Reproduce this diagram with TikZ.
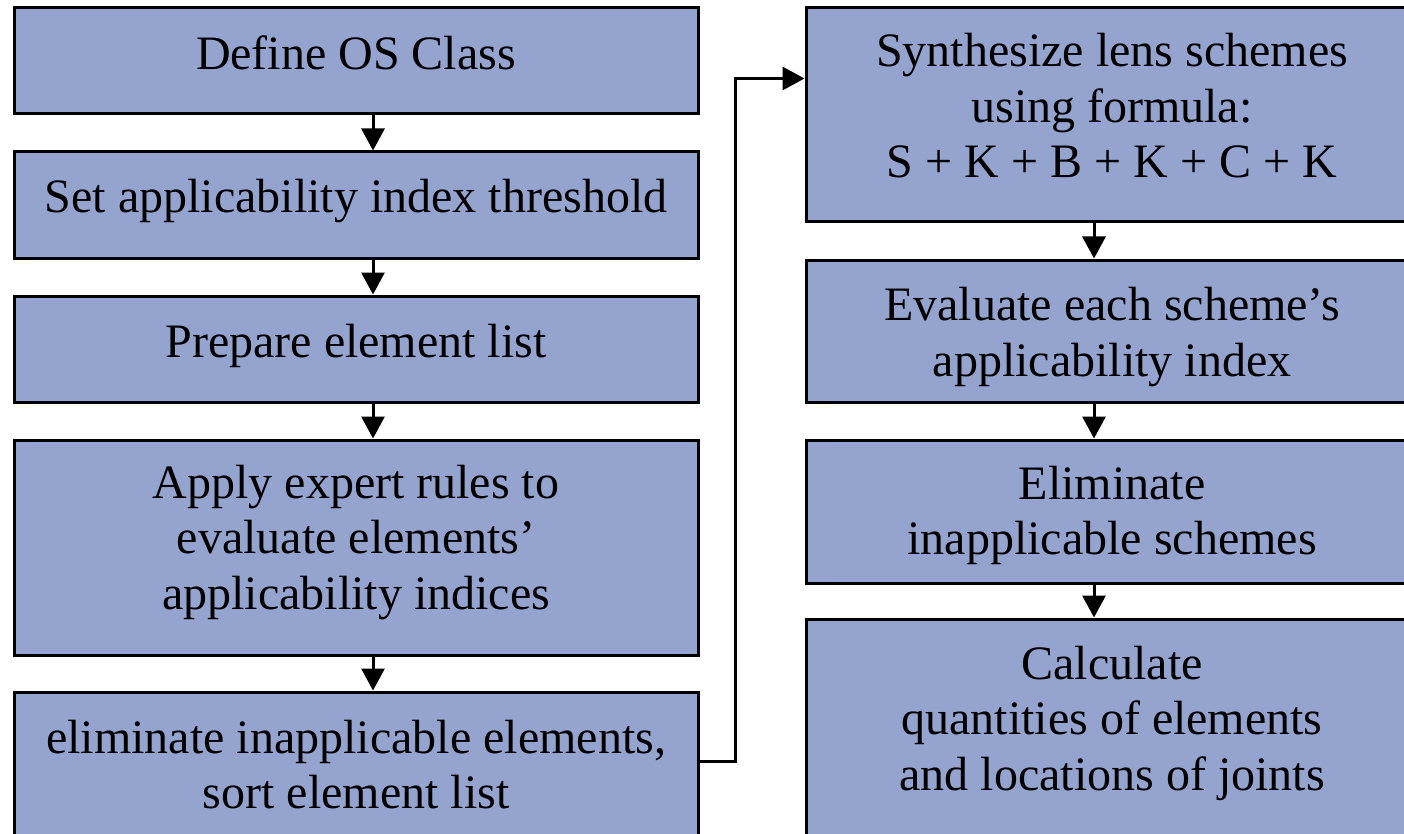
\documentclass[tikz,border=0pt]{standalone}
\usepackage{fontspec}
\setmainfont{Liberation Serif}
\usetikzlibrary{arrows.meta}
\definecolor{boxfill}{HTML}{95A3CF}
% centred block of lines; the optional extra depth nudges the block within its box
\newcommand{\blocklines}[2][0pt]{\begin{tabular}{@{}c@{}}#2\\[#1]\end{tabular}}
\begin{document}
\begin{tikzpicture}[x=1pt,y=-1pt,
  box/.style={draw=black, line width=3pt, fill=boxfill, inner sep=0pt,
    font=\fontsize{48}{55.5}\selectfont},
  lbox/.style={box, minimum width=684pt},
  rbox/.style={box, minimum width=612pt},
  arr/.style={line width=3pt, -{Triangle[width=23pt,length=22pt]}}]
\clip (0,0) rectangle (1404,834);
% left column
\node[lbox, minimum height=106pt] (L1) at (356,61) {\blocklines[5.2pt]{Define OS Class}};
\node[lbox, minimum height=106pt] (L2) at (356,205) {\blocklines[6.2pt]{Set applicability index threshold}};
\node[lbox, minimum height=106pt] (L3) at (356,349) {\blocklines[6.2pt]{Prepare element list}};
\node[lbox, minimum height=215pt] (L4) at (356,547.5) {\blocklines[10.2pt]{Apply expert rules to\\evaluate elements'\\applicability indices}};
\node[lbox, minimum height=160pt] (L5) at (356,772) {\blocklines[4.7pt]{eliminate inapplicable elements,\\sort element list}};
% right column
\node[rbox, minimum height=214pt] (R1) at (1112,115) {\blocklines[7.8pt]{Synthesize lens schemes\\using formula:\\S + K + B + K + C + K}};
\node[rbox, minimum height=142pt] (R2) at (1112,331) {\blocklines[-12.7pt]{Evaluate each scheme's\\applicability index}};
\node[rbox, minimum height=143pt] (R3) at (1112,511.5) {\blocklines[-8.3pt]{Eliminate\\inapplicable schemes}};
\node[rbox, minimum height=240pt] (R4) at (1112,739) {\blocklines[31.2pt]{Calculate\\quantities of elements\\and locations of joints}};
% connectors
\foreach \a/\b in {L1/L2,L2/L3,L3/L4,L4/L5}
  \draw[arr] ([xshift=17pt]\a.south) -- ([xshift=17pt]\b.north);
\foreach \a/\b in {R1/R2,R2/R3,R3/R4}
  \draw[arr] ([xshift=-18pt]\a.south) -- ([xshift=-18pt]\b.north);
\draw[arr] ([yshift=-71pt]L5.north east) -- ++(36,0) |- ([yshift=-72pt]R1.north west);
\end{tikzpicture}
\end{document}
